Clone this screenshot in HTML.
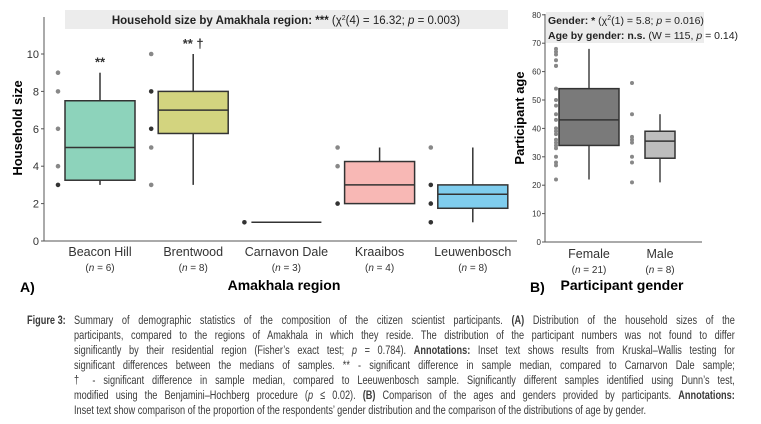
<!DOCTYPE html>
<html><head><meta charset="utf-8"><style>
html,body{margin:0;padding:0;background:#fff;width:761px;height:424px;overflow:hidden;font-family:"Liberation Sans",sans-serif}
svg text{font-family:"Liberation Sans",sans-serif}
.cap{position:absolute;left:74px;font-size:12.4px;color:#3a3a3a;white-space:nowrap;transform-origin:0 0;transform:scaleX(0.74);width:893px;text-align:justify;text-align-last:justify}
</style></head><body>
<svg id="chart" width="761" height="310" style="position:absolute;left:0;top:0"></svg>
<div>
<div style="position:absolute;left:27px;top:313px;font-size:12.4px;font-weight:bold;color:#3a3a3a;transform-origin:0 0;transform:scaleX(0.74)">Figure 3:</div>
<div class="cap" style="top:313px">Summary of demographic statistics of the composition of the citizen scientist participants. <b>(A)</b> Distribution of the household sizes of the</div>
<div class="cap" style="top:328px">participants, compared to the regions of Amakhala in which they reside. The distribution of the participant numbers was not found to differ</div>
<div class="cap" style="top:343px">significantly by their residential region (Fisher’s exact test; <i>p</i> = 0.784). <b>Annotations:</b> Inset text shows results from Kruskal–Wallis testing for</div>
<div class="cap" style="top:358px">significant differences between the medians of samples. ** - significant difference in sample median, compared to Carnarvon Dale sample;</div>
<div class="cap" style="top:373px">† - significant difference in sample median, compared to Leeuwenbosch sample. Significantly different samples identified using Dunn’s test,</div>
<div class="cap" style="top:388px">modified using the Benjamini–Hochberg procedure (<i>p</i> ≤ 0.02). <b>(B)</b> Comparison of the ages and genders provided by participants. <b>Annotations:</b></div>
<div class="cap" style="top:403px;text-align-last:left">Inset text show comparison of the proportion of the respondents’ gender distribution and the comparison of the distributions of age by gender.</div>
</div>
<script>
const regions=["Beacon Hill","Brentwood","Carnavon Dale","Kraaibos","Leuwenbosch"];
const regionN=[6,8,3,4,8];
const hhQ1=[3.25,5.75,1,2,1.75];
const hhMed=[5,7,1,3,2.5];
const hhQ3=[7.5,8,1,4.25,3];
const hhMin=[3,3,1,2,1];
const hhMax=[9,10,1,5,5];
const hhColors=["#8dd3bb","#d3d47f","#ffffff","#f8b8b5","#7fcdee"];
const hhPoints=[[9,8,6,4,3],[10,8,6,5,3],[1],[5,4,2],[5,3,2,1]];
const hhDark=[[0,0,0,0,1],[0,1,1,0,0],[1],[0,0,1],[0,1,1,1]];
const hhMarks=["**","** †","","",""];
const hhTicks=[0,2,4,6,8,10];
const genders=["Female","Male"];
const genderN=[21,8];
const agQ1=[34,29.5],agMed=[43,35.5],agQ3=[54,39],agMin=[22,21],agMax=[68,45];
const agColors=["#7a7a7a","#bdbdbd"];
const agPoints=[[68,67,66,64,62,62,54,50,48,45,43,40,39,38,36,35,34,33,30,28,27,22],[56,45,37,36,35,30,28,21]];
const agTicks=[0,10,20,30,40,50,60,70,80];

const NS="http://www.w3.org/2000/svg",svg=document.getElementById('chart');
function mk(t,a,txt,p){const e=document.createElementNS(NS,t);for(const k in a)e.setAttribute(k,a[k]);if(txt!=null)e.textContent=txt;(p||svg).appendChild(e);return e;}
// Panel A
const yA=v=>241-v*18.7, xA=i=>100+i*93.2;
let g=mk('g',{});
let t=mk('rect',{x:65,y:10,width:443,height:19,fill:'#ececec'},null,g);
t=mk('text',{x:286,y:24,'font-size':11.5,'text-anchor':'middle',fill:'#222'},null,g);

t.innerHTML='<tspan font-weight="bold">Household size by Amakhala region: ***</tspan> (χ<tspan dy="-4" font-size="7">2</tspan><tspan dy="4">(4) = 16.32; </tspan><tspan font-style="italic">p</tspan> = 0.003)';
mk('line',{x1:44,y1:17,x2:44,y2:241,stroke:'#555'},null,g);
mk('line',{x1:44,y1:241,x2:517,y2:241,stroke:'#555'},null,g);
hhTicks.forEach(v=>{mk('line',{x1:41,x2:44,y1:yA(v),y2:yA(v),stroke:'#555'},null,g);
 t=mk('text',{x:39,y:yA(v)+4,'font-size':11,'text-anchor':'end',fill:'#333'},v,g);
 });
t=mk('text',{transform:'translate(22,128) rotate(-90)','font-size':13,'font-weight':'bold','text-anchor':'middle'},'Household size',g);

regions.forEach((r,i)=>{const cx=xA(i);
 const bg=mk('g',{},null,g);
 mk('line',{x1:cx,x2:cx,y1:yA(hhMin[i]),y2:yA(hhMax[i]),stroke:'#333','stroke-width':1.5},null,bg);
 if(hhQ3[i]>hhQ1[i]){mk('rect',{x:cx-35,y:yA(hhQ3[i]),width:70,height:yA(hhQ1[i])-yA(hhQ3[i]),fill:hhColors[i],stroke:'#333','stroke-width':1.5},null,bg);}
 mk('line',{x1:cx-35,x2:cx+35,y1:yA(hhMed[i]),y2:yA(hhMed[i]),stroke:'#333','stroke-width':1.5},null,bg);
 hhPoints[i].forEach((v,j)=>{const c=mk('circle',{cx:cx-42,cy:yA(v),r:2.3,fill:hhDark[i][j]?'#333':'#888'},null,bg);
  });
 if(hhMarks[i]){t=mk('text',{x:cx,y:yA(hhMax[i])-6,'font-size':13,'font-weight':'bold','text-anchor':'middle',fill:'#333'},hhMarks[i],bg);}
 t=mk('text',{x:cx,y:256,'font-size':12.5,'text-anchor':'middle',fill:'#333'},r,g);
 t=mk('text',{x:cx,y:271,'font-size':10,'text-anchor':'middle',fill:'#333'},null,g);t.innerHTML='(<tspan font-style="italic">n</tspan> = '+regionN[i]+')';
 });
t=mk('text',{x:284,y:290,'font-size':14,'font-weight':'bold','text-anchor':'middle'},'Amakhala region',g);
t=mk('text',{x:20,y:292,'font-size':14,'font-weight':'bold'},'A)',g);
// Panel B
const yB=v=>242-v*2.84, xB=i=>589+i*71;
g=mk('g',{});
mk('rect',{x:546,y:12,width:158,height:31,fill:'#ececec'},null,g);
t=mk('text',{x:548,y:24,'font-size':10.5,fill:'#222'},null,g);t.innerHTML='<tspan font-weight="bold">Gender: *</tspan> (χ<tspan dy="-4" font-size="7">2</tspan><tspan dy="4">(1) = 5.8; </tspan><tspan font-style="italic">p</tspan> = 0.016)';

t=mk('text',{x:548,y:39,'font-size':10.5,fill:'#222'},null,g);t.innerHTML='<tspan font-weight="bold">Age by gender: n.s.</tspan> (W = 115, <tspan font-style="italic">p</tspan> = 0.14)';

mk('line',{x1:545,y1:14,x2:545,y2:242,stroke:'#555'},null,g);
mk('line',{x1:545,y1:242,x2:702,y2:242,stroke:'#555'},null,g);
agTicks.forEach(v=>{mk('line',{x1:542,x2:545,y1:yB(v),y2:yB(v),stroke:'#555'},null,g);
 t=mk('text',{x:541,y:yB(v)+3,'font-size':8,'text-anchor':'end',fill:'#333'},v,g);});
t=mk('text',{transform:'translate(524,118) rotate(-90)','font-size':13,'font-weight':'bold','text-anchor':'middle'},'Participant age',g);
genders.forEach((s,i)=>{const cx=xB(i),hw=i?15:30;
 const bg=mk('g',{},null,g);
 mk('line',{x1:cx,x2:cx,y1:yB(agMin[i]),y2:yB(agMax[i]),stroke:'#444','stroke-width':1.5},null,bg);
 mk('rect',{x:cx-hw,y:yB(agQ3[i]),width:hw*2,height:yB(agQ1[i])-yB(agQ3[i]),fill:agColors[i],stroke:'#333','stroke-width':1.5},null,bg);
 mk('line',{x1:cx-hw,x2:cx+hw,y1:yB(agMed[i]),y2:yB(agMed[i]),stroke:'#333','stroke-width':1.5},null,bg);
 agPoints[i].forEach(v=>{const c=mk('circle',{cx:i?632:556,cy:yB(v),r:2,fill:'#888'},null,bg);});
 t=mk('text',{x:cx,y:258,'font-size':12.5,'text-anchor':'middle',fill:'#333'},s,g);
 t=mk('text',{x:cx,y:273,'font-size':10,'text-anchor':'middle',fill:'#333'},null,g);t.innerHTML='(<tspan font-style="italic">n</tspan> = '+genderN[i]+')';
 });
t=mk('text',{x:622,y:290,'font-size':14,'font-weight':'bold','text-anchor':'middle'},'Participant gender',g);
t=mk('text',{x:530,y:292,'font-size':14,'font-weight':'bold'},'B)',g);
</script>
</body></html>
